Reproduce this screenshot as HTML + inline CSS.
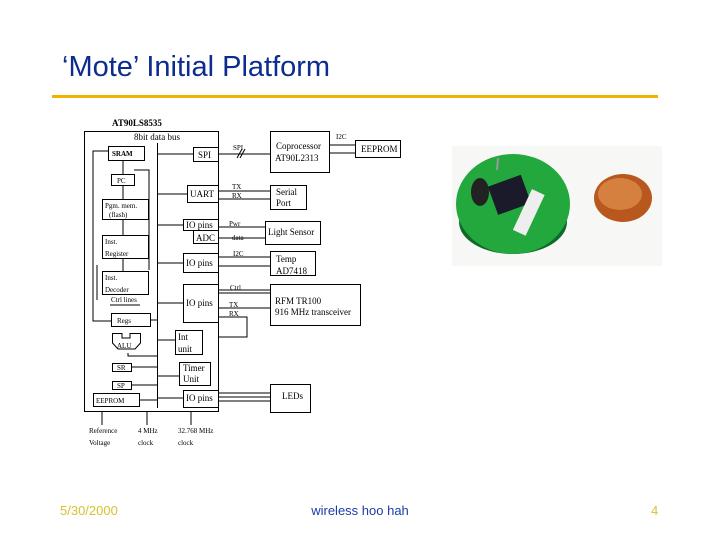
<!DOCTYPE html>
<html><head><style>
html,body{margin:0;padding:0;background:#fff;width:720px;height:540px;overflow:hidden}
svg{display:block}
.d{font-family:"Liberation Serif",serif;font-size:9px;fill:#000}
.s{font-family:"Liberation Serif",serif;font-size:7px;fill:#000}
</style></head><body>
<svg width="720" height="540" viewBox="0 0 720 540" xmlns="http://www.w3.org/2000/svg">
<text x="62" y="76" font-family="Liberation Sans,sans-serif" font-size="29" fill="#0c2c8e">‘Mote’ Initial Platform</text>
<rect x="52" y="95" width="606" height="3" fill="#f0b400"/>

<!-- photo -->
<rect x="452" y="146" width="210" height="120" fill="#f7f7f5"/>
<ellipse cx="513" cy="222" rx="54" ry="32" fill="#0e6a26"/>
<ellipse cx="513" cy="204" rx="57" ry="50" fill="#22a83c"/>
<rect x="492" y="180" width="35" height="30" fill="#1a1a2a" transform="rotate(-20 509 195)"/>
<ellipse cx="480" cy="192" rx="9" ry="14" fill="#222"/>
<rect x="522" y="190" width="14" height="45" fill="#eee" transform="rotate(25 529 212)"/>
<line x1="498" y1="158" x2="497" y2="170" stroke="#999" stroke-width="2"/>
<ellipse cx="623" cy="198" rx="29" ry="24" fill="#b8581e"/>
<ellipse cx="620" cy="194" rx="22" ry="16" fill="#d68040"/>

<g stroke="#000" stroke-width="1" fill="none">
<rect x="84.5" y="131.5" width="134" height="280"/>
<line x1="157.5" y1="143" x2="157.5" y2="408"/>
<rect x="108.5" y="146.5" width="36" height="14"/>
<rect x="111.5" y="174.5" width="23" height="11"/>
<rect x="102.5" y="199.5" width="46" height="20"/>
<rect x="102.5" y="235.5" width="46" height="23"/>
<rect x="102.5" y="271.5" width="46" height="23"/>
<rect x="111.5" y="313.5" width="39" height="13"/>
<path d="M112.5 333.5 H122 V338 H130 V333.5 H140.5 V343 L135 349 H118 L112.5 343 Z"/>
<rect x="112.5" y="363.5" width="19" height="8"/>
<rect x="112.5" y="381.5" width="19" height="8"/>
<rect x="93.5" y="393.5" width="46" height="13"/>
<polyline points="108,151 93,151 93,321 111,321"/>
<polyline points="134,170 149,170 149,270"/>
<line x1="123" y1="160" x2="123" y2="174"/>
<line x1="123" y1="185" x2="123" y2="199"/>
<line x1="123" y1="219" x2="123" y2="235"/>
<line x1="123" y1="258" x2="123" y2="271"/>
<polyline points="97,265 97,300"/>
<polyline points="128,353 128,356 157,356"/>
<line x1="131" y1="367" x2="157" y2="367"/>
<line x1="131" y1="385" x2="157" y2="385"/>
<line x1="139" y1="400" x2="157" y2="400"/>
<line x1="150" y1="320" x2="157" y2="320"/>
<polyline points="110,305 140,305"/>
<rect x="193.5" y="147.5" width="25" height="14"/>
<rect x="187.5" y="185.5" width="31" height="17"/>
<rect x="183.5" y="219.5" width="35" height="11"/>
<rect x="193.5" y="230.5" width="25" height="13"/>
<rect x="183.5" y="253.5" width="35" height="19"/>
<rect x="183.5" y="284.5" width="35" height="38"/>
<rect x="175.5" y="330.5" width="27" height="24"/>
<rect x="179.5" y="362.5" width="31" height="23"/>
<rect x="183.5" y="390.5" width="35" height="17"/>
<line x1="157" y1="154" x2="193" y2="154"/>
<line x1="157" y1="194" x2="187" y2="194"/>
<line x1="157" y1="225" x2="183" y2="225"/>
<line x1="157" y1="263" x2="183" y2="263"/>
<line x1="157" y1="303" x2="183" y2="303"/>
<line x1="157" y1="340" x2="175" y2="340"/>
<line x1="157" y1="376" x2="179" y2="376"/>
<line x1="157" y1="398" x2="183" y2="398"/>
<rect x="270.5" y="131.5" width="59" height="41"/>
<rect x="355.5" y="140.5" width="45" height="17"/>
<rect x="270.5" y="185.5" width="36" height="24"/>
<rect x="265.5" y="221.5" width="55" height="23"/>
<rect x="270.5" y="251.5" width="45" height="24"/>
<rect x="270.5" y="284.5" width="90" height="41"/>
<rect x="270.5" y="384.5" width="40" height="28"/>
<line x1="219" y1="154" x2="270" y2="154"/>
<line x1="237" y1="158" x2="242" y2="149"/><line x1="240" y1="158" x2="245" y2="149"/>
<line x1="329" y1="145" x2="355" y2="145"/>
<line x1="329" y1="153" x2="355" y2="153"/>
<line x1="219" y1="191" x2="270" y2="191"/>
<line x1="219" y1="199" x2="270" y2="199"/>
<line x1="219" y1="227" x2="265" y2="227"/>
<line x1="219" y1="238" x2="265" y2="238"/>
<line x1="219" y1="257" x2="270" y2="257"/>
<line x1="219" y1="266" x2="270" y2="266"/>
<line x1="219" y1="290" x2="270" y2="290"/>
<line x1="219" y1="293" x2="270" y2="293"/>
<line x1="219" y1="308" x2="270" y2="308"/>
<polyline points="219,317 247,317 247,337 219,337"/>
<line x1="219" y1="393" x2="270" y2="393"/>
<line x1="219" y1="397" x2="270" y2="397"/>
<line x1="219" y1="401" x2="270" y2="401"/>
<line x1="102" y1="412" x2="102" y2="425"/>
<line x1="147" y1="412" x2="147" y2="425"/>
<line x1="191" y1="412" x2="191" y2="425"/>
</g>
<text class="d" x="112" y="126" font-weight="bold">AT90LS8535</text>
<text class="d" x="134" y="140">8bit data bus</text>
<text class="s" x="112" y="156" font-weight="bold">SRAM</text>
<text class="s" x="117" y="183">PC</text>
<text class="s" x="105" y="208">Pgm. mem.</text>
<text class="s" x="109" y="217">(flash)</text>
<text class="s" x="105" y="244">Inst.</text>
<text class="s" x="105" y="256">Register</text>
<text class="s" x="105" y="280">Inst.</text>
<text class="s" x="105" y="292">Decoder</text>
<text class="s" x="111" y="302">Ctrl lines</text>
<text class="s" x="117" y="323">Regs</text>
<text class="s" x="117" y="348">ALU</text>
<text class="s" x="117" y="370">SR</text>
<text class="s" x="117" y="388">SP</text>
<text class="s" x="96" y="403">EEPROM</text>
<text class="d" x="198" y="158">SPI</text>
<text class="d" x="190" y="197">UART</text>
<text class="d" x="186" y="228">IO pins</text>
<text class="d" x="196" y="241">ADC</text>
<text class="d" x="186" y="266">IO pins</text>
<text class="d" x="186" y="306">IO pins</text>
<text class="d" x="178" y="340">Int</text>
<text class="d" x="178" y="352">unit</text>
<text class="d" x="183" y="371">Timer</text>
<text class="d" x="183" y="382">Unit</text>
<text class="d" x="186" y="401">IO pins</text>
<text class="s" x="233" y="150">SPI</text>
<text class="s" x="232" y="189">TX</text>
<text class="s" x="232" y="198">RX</text>
<text class="s" x="229" y="226">Pwr</text>
<text class="s" x="232" y="240">data</text>
<text class="s" x="233" y="256">I2C</text>
<text class="s" x="230" y="290">Ctrl</text>
<text class="s" x="229" y="307">TX</text>
<text class="s" x="229" y="316">RX</text>
<text class="s" x="336" y="139">I2C</text>
<text class="d" x="276" y="149">Coprocessor</text>
<text class="d" x="275" y="161">AT90L2313</text>
<text class="d" x="361" y="152">EEPROM</text>
<text class="d" x="276" y="195">Serial</text>
<text class="d" x="276" y="206">Port</text>
<text class="d" x="268" y="235">Light Sensor</text>
<text class="d" x="276" y="262">Temp</text>
<text class="d" x="276" y="274">AD7418</text>
<text class="d" x="275" y="304">RFM TR100</text>
<text class="d" x="275" y="315">916 MHz transceiver</text>
<text class="d" x="282" y="399">LEDs</text>
<text class="s" x="89" y="433">Reference</text>
<text class="s" x="89" y="445">Voltage</text>
<text class="s" x="138" y="433">4 MHz</text>
<text class="s" x="138" y="445">clock</text>
<text class="s" x="178" y="433">32.768 MHz</text>
<text class="s" x="178" y="445">clock</text>

<text x="60" y="515" font-family="Liberation Sans,sans-serif" font-size="13" fill="#d8c030">5/30/2000</text>
<text x="360" y="515" text-anchor="middle" font-family="Liberation Sans,sans-serif" font-size="13" fill="#1c3ca8">wireless hoo hah</text>
<text x="651" y="515" font-family="Liberation Sans,sans-serif" font-size="13" fill="#d8c030">4</text>
</svg>
</body></html>
